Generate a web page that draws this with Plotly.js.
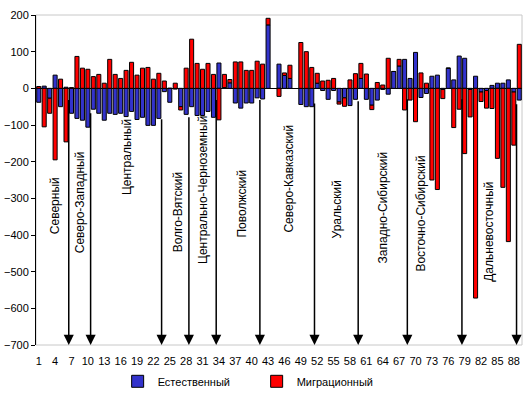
<!DOCTYPE html>
<html><head><meta charset="utf-8">
<script src="https://cdn.plot.ly/plotly-3.0.1.min.js"></script>
<style>html,body{margin:0;padding:0;background:#fff}#chart{width:530px;height:394px}</style>
</head><body><div id="chart"></div>
<script>
// ---- data ----
const categories = [1,2,3,4,5,6,7,8,9,10,11,12,13,14,15,16,17,18,19,20,21,22,23,24,25,26,27,28,29,30,
  31,32,33,34,35,36,37,38,39,40,41,42,43,44,45,46,47,48,49,50,51,52,53,54,55,56,57,58,59,60,
  61,62,63,64,65,66,67,68,69,70,71,72,73,74,75,76,77,78,79,80,81,82,83,84,85,86,87,88,89];
const natural = [-38,6,-27,36,-50,3,-68,-82,-87,-106,-57,-68,-87,-68,-71,-68,-77,-63,-85,-79,
  -101,-101,-82,-9,-38,-2,-50,-71,-50,-74,-74,-63,-79,69,2,15,-40,-54,-40,-40,
  -26,-29,173,null,66,35,27,null,-44,-50,-50,14,-6,-30,-6,-37,-26,-47,-30,27,
  -30,-46,-32,-3,-16,46,61,79,27,98,-25,-14,33,36,-3,55,23,88,82,-3,
  33,-10,-6,8,14,14,23,-10,-32];
const migration = [5,-105,-41,-195,25,-146,2,87,55,52,32,38,14,79,38,27,49,71,36,55,
  57,25,41,20,0,14,-9,55,134,68,52,68,38,-86,36,9,72,72,49,49,
  74,66,18,null,-22,7,36,null,125,100,57,27,20,22,27,-6,-23,23,40,41,
  39,-12,16,9,82,0,18,-59,-32,-91,42,14,-250,-276,-25,0,-107,-57,-178,-75,
  -572,-26,-48,-55,-191,-270,-418,-145,120];
const seriesNames = ['Естественный', 'Миграционный'];
const tickLabels = ['1','4','7','10','13','16','19','22','25','28','31','34','37','40','43',
  '46','49','52','55','58','61','64','67','70','73','76','79','82','85','88'];
const regionNames = ['Северный','Северо-Западный','Центральный','Волго-Вятский',
  'Центрально-Черноземный','Поволжский','Северо-Кавказский','Уральский',
  'Западно-Сибирский','Восточно-Сибирский','Дальневосточный'];
const regionLastCategory = [6,10,23,28,33,41,51,59,68,78,88];

// ---- layout helpers (positions of labels / arrow tails) ----
const labelX = [4.0,8.6,17.2,26.4,31.1,38.3,46.9,55.7,64.1,71.1,83.4];
const labelY = [-321,-310,-187,-337,-277,-313,-245,-329,-324,-343,-392];
const arrowTop = [-28,-64,-80,-75,-28,-28,-37,-31,-26,-26,-39];

const FONT = 'Liberation Sans, Arial, sans-serif';

const traces = [
  {type:'bar', name:seriesNames[0], x:categories, y:natural,
   marker:{color:'#3333cc', line:{color:'#000', width:1}}, width:0.74},
  {type:'bar', name:seriesNames[1], x:categories, y:migration,
   marker:{color:'#ff0000', line:{color:'#000', width:1}}, width:0.74}
];

const annotations = [];
regionNames.forEach((n,i)=>{
  annotations.push({text:n, x:labelX[i], y:labelY[i], xref:'x', yref:'y',
    textangle:-90, showarrow:false, font:{family:FONT, size:12, color:'#000'}});
  const bx = regionLastCategory[i] + 0.5;
  annotations.push({text:'', x:bx, y:-700, xref:'x', yref:'y',
    ax:bx, ay:arrowTop[i], axref:'x', ayref:'y', showarrow:true,
    arrowhead:2, arrowsize:1.35, arrowwidth:1.5, arrowcolor:'#000', standoff:0, startstandoff:0});
});

const layout = {
  width:530, height:394,
  margin:{l:36, r:8, t:15, b:49, autoexpand:false},
  paper_bgcolor:'#fff', plot_bgcolor:'#fff',
  barmode:'relative',
  showlegend:true,
  legend:{orientation:'h', x:0.168, xanchor:'left', y:-0.11, yanchor:'middle',
    font:{family:FONT, size:11, color:'#000'}, entrywidth:94, entrywidthmode:'pixels',
    itemwidth:30, traceorder:'normal'},
  font:{family:FONT, size:11, color:'#000'},
  xaxis:{range:[0.5,89.5], tickvals:tickLabels.map(Number), ticktext:tickLabels,
    showgrid:false, zeroline:false, showline:false, ticks:'', ticklabelstandoff:8,
    automargin:false,
    tickfont:{family:FONT, size:11, color:'#000'}, fixedrange:true},
  yaxis:{range:[-700,200], dtick:100, tick0:0, showgrid:false, automargin:false,
    zeroline:true, zerolinecolor:'#000', zerolinewidth:1,
    showline:true, linecolor:'#000', linewidth:1, ticks:'outside', ticklen:4, tickcolor:'#000',
    tickfont:{family:FONT, size:11, color:'#000'}, fixedrange:true},
  shapes:[{type:'rect', xref:'paper', yref:'paper', x0:0, x1:1, y0:0, y1:1,
    line:{color:'#c8c8c8', width:1}, layer:'below'}],
  annotations:annotations
};

Plotly.newPlot('chart', traces, layout, {displayModeBar:false, staticPlot:true});
</script>
</body></html>
